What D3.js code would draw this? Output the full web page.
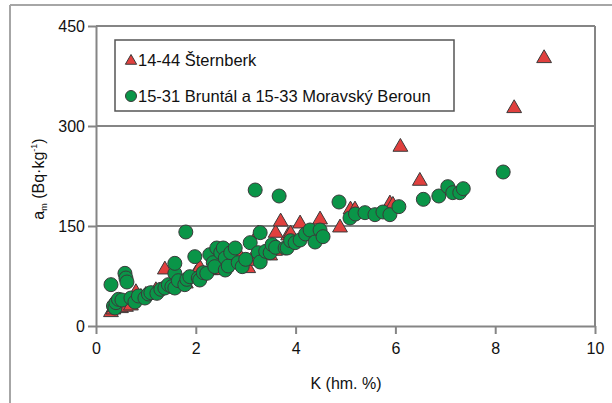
<!DOCTYPE html>
<html><head><meta charset="utf-8">
<script src="https://cdn.jsdelivr.net/npm/d3@7"></script>
<style>
html,body{margin:0;padding:0;background:#fff;}
text{font-family:"Liberation Sans",Arial,sans-serif;fill:#111;}
</style></head>
<body>
<svg id="chart" width="612" height="403"></svg>
<script>
const xTicks = [0, 2, 4, 6, 8, 10];
const yTicks = [0, 150, 300, 450];
const seriesNames = ["14-44 Šternberk", "15-31 Bruntál a 15-33 Moravský Beroun"];
const sternberk = [
  [0.3,22],[0.35,26],[0.4,30],[0.5,28],[0.6,30],[0.7,32],[0.8,52],[0.9,45],[1.0,48],[1.2,55],
  [1.38,86],[1.5,60],[1.8,65],[2.0,80],[2.08,89],[2.3,85],[2.5,85],[2.6,90],[2.8,95],[2.89,105],
  [3.05,88],[3.1,99],[3.25,140],[3.49,107],[3.59,114],[3.6,141],[3.7,158],[3.85,137],[3.9,140],
  [4.09,155],[4.49,161],[4.89,149],[5.1,176],[5.19,176],[5.89,185],[5.95,183],[6.1,270],
  [6.49,219],[8.38,328],[8.98,403]
];
const bruntal = [
  [0.3,62],[0.35,30],[0.38,27],[0.4,35],[0.45,40],[0.52,39],[0.58,79],[0.6,72],[0.62,66],[0.7,42],
  [0.78,36],[0.85,45],[0.98,42],[1.05,48],[1.1,50],[1.22,49],[1.3,55],[1.38,57],[1.45,62],[1.52,59],
  [1.58,57],[1.58,79],[1.58,94],[1.65,68],[1.78,62],[1.8,141],[1.82,70],[1.88,74],[1.98,104],[2.05,72],
  [2.08,69],[2.15,80],[2.22,79],[2.28,107],[2.35,95],[2.38,89],[2.42,117],[2.5,110],[2.55,117],[2.59,102],
  [2.59,84],[2.65,90],[2.7,110],[2.79,117],[2.85,95],[2.93,89],[3.0,100],[3.09,125],[3.19,204],[3.25,110],
  [3.29,96],[3.29,140],[3.4,112],[3.49,110],[3.53,122],[3.6,118],[3.67,195],[3.79,117],[3.83,117],[3.9,128],
  [3.99,125],[4.09,129],[4.2,138],[4.29,144],[4.39,126],[4.49,144],[4.55,134],[4.87,186],[5.09,162],[5.2,168],
  [5.39,170],[5.59,167],[5.75,171],[5.89,167],[6.07,179],[6.56,190],[6.87,195],[7.05,209],[7.15,200],[7.29,200],
  [7.36,206],[8.16,231]
];

const svg = d3.select("#chart");
const x = d3.scaleLinear().domain([0, 10]).range([96, 595]);
const y = d3.scaleLinear().domain([0, 450]).range([326, 26]);
const gridColor = "#858585";

// outer frame (top and left visible)
svg.append("line").attr("x1",10).attr("x2",612).attr("y1",5).attr("y2",5)
  .attr("stroke","#a6a6a6").attr("stroke-width",2);
svg.append("line").attr("x1",10).attr("x2",10).attr("y1",5).attr("y2",403)
  .attr("stroke","#a6a6a6").attr("stroke-width",2);

// gridlines
svg.append("g").selectAll("line").data(yTicks.filter(d => d > 0)).join("line")
  .attr("x1", x(0)).attr("x2", x(10)).attr("y1", d => y(d)).attr("y2", d => y(d))
  .attr("stroke", gridColor).attr("stroke-width", 2);
// right border
svg.append("line").attr("x1", x(10)).attr("x2", x(10)).attr("y1", y(450)).attr("y2", y(0))
  .attr("stroke", gridColor).attr("stroke-width", 2);

// axes
const yAxis = svg.append("g").attr("transform", `translate(${x(0)},0)`)
  .call(d3.axisLeft(y).tickValues(yTicks).tickSize(8).tickSizeOuter(0).tickPadding(3).tickFormat(d3.format("d")));
const xAxis = svg.append("g").attr("transform", `translate(0,${y(0)})`)
  .call(d3.axisBottom(x).tickValues(xTicks).tickSize(8).tickSizeOuter(0).tickPadding(9).tickFormat(d3.format("d")));
[yAxis, xAxis].forEach(g => {
  g.select(".domain").attr("stroke", gridColor).attr("stroke-width", 2);
  g.selectAll(".tick line").attr("stroke", gridColor).attr("stroke-width", 2);
  g.selectAll(".tick text").attr("font-size", 16).attr("fill", "#111")
    .style("font-family", '"Liberation Sans", Arial, sans-serif');
});

// symbols
const triSym = d3.symbol().type(d3.symbolTriangle).size(95);
const triFill = "#e0403e", greenFill = "#0a9548", edge = "#3a3a3a";

svg.append("g").selectAll("path").data(sternberk).join("path")
  .attr("d", triSym)
  .attr("transform", d => `translate(${x(d[0])},${y(d[1]) + 1})`)
  .attr("fill", triFill).attr("stroke", edge).attr("stroke-width", 1);

svg.append("g").selectAll("circle").data(bruntal).join("circle")
  .attr("cx", d => x(d[0])).attr("cy", d => y(d[1])).attr("r", 7)
  .attr("fill", greenFill).attr("stroke", edge).attr("stroke-width", 1);

// legend
const lg = svg.append("g");
lg.append("rect").attr("x",115).attr("y",40).attr("width",339).attr("height",71)
  .attr("fill","#fff").attr("stroke","#555").attr("stroke-width",1.5);
lg.append("path").attr("d", d3.symbol().type(d3.symbolTriangle).size(55))
  .attr("transform","translate(131,61)").attr("fill",triFill).attr("stroke",edge).attr("stroke-width",1);
lg.append("circle").attr("cx",131).attr("cy",96).attr("r",5.5)
  .attr("fill",greenFill).attr("stroke",edge).attr("stroke-width",1);
lg.selectAll("text.lab").data(seriesNames).join("text").attr("class","lab")
  .attr("x",138).attr("y",(d,i) => i === 0 ? 66 : 102)
  .attr("font-size",16.5).text(d => d);

// axis titles
svg.append("text").attr("x", 346).attr("y", 389).attr("text-anchor","middle")
  .attr("font-size",16).text("K (hm. %)");
const yt = svg.append("text").attr("transform","translate(44,179) rotate(-90)")
  .attr("text-anchor","middle").attr("font-size",16);
yt.append("tspan").text("a");
yt.append("tspan").attr("font-size",9).attr("dy",3).text("m");
yt.append("tspan").attr("dy",-3).text(" (Bq·kg");
yt.append("tspan").attr("font-size",9).attr("dy",-7).text("-1");
yt.append("tspan").attr("dy",7).text(")");
</script>
</body></html>
